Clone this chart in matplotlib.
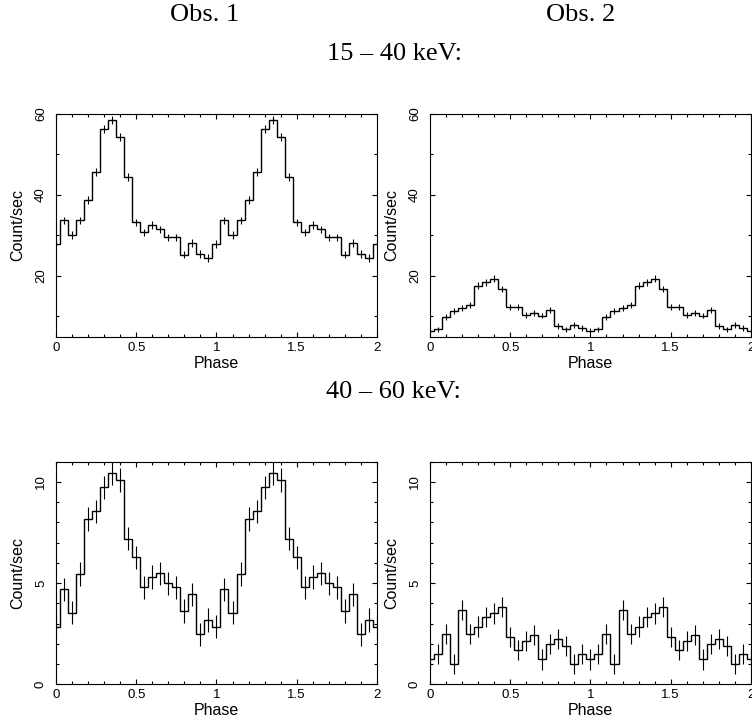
import numpy as np
import matplotlib
matplotlib.use("Agg")
import matplotlib.pyplot as plt
from matplotlib.ticker import MultipleLocator

# pulse profiles, 20 phase bins per cycle (bin centres 0.00 .. 0.95)
rate_obs1_15_40 = [27.9, 33.7, 30.1, 33.7, 38.8, 45.6, 56.3, 58.5, 54.4, 44.4,
                   33.2, 30.8, 32.6, 31.5, 29.5, 29.5, 25.2, 28.1, 25.4, 24.4]
err_obs1_15_40 = [0.9, 0.9, 0.9, 0.9, 1.0, 1.0, 1.0, 1.0, 1.0, 1.0,
                  0.9, 0.9, 0.9, 0.9, 0.9, 0.9, 0.9, 0.9, 0.9, 0.9]

rate_obs2_15_40 = [6.5, 6.8, 9.8, 11.4, 12.0, 12.8, 17.6, 18.4, 19.3, 16.8,
                   12.3, 12.3, 10.4, 10.8, 10.2, 11.6, 7.7, 6.8, 7.9, 7.1]
err_obs2_15_40 = [0.7, 0.7, 0.7, 0.7, 0.7, 0.7, 0.8, 0.8, 0.8, 0.8,
                  0.7, 0.7, 0.7, 0.7, 0.7, 0.7, 0.7, 0.7, 0.7, 0.7]

rate_obs1_40_60 = [2.85, 4.69, 3.54, 5.44, 8.17, 8.54, 9.72, 10.41, 10.08, 7.20,
                   6.27, 4.79, 5.31, 5.48, 4.98, 4.79, 3.62, 4.44, 2.47, 3.17]
err_obs1_40_60 = [0.58] * 20

rate_obs2_40_60 = [1.23, 1.48, 2.48, 1.00, 3.67, 2.48, 2.85, 3.34, 3.50, 3.83,
                   2.35, 1.69, 2.15, 2.42, 1.23, 1.99, 2.22, 1.89, 1.00, 1.48]
err_obs2_40_60 = [0.5] * 20

bin_width = 0.05

serif = ["Liberation Serif", "DejaVu Serif"]
sans = ["Liberation Sans", "DejaVu Sans"]
plt.rcParams["font.family"] = sans


def two_cycles(v):
    # profile shown over phase 0..2 (plus the wrapped bin at phase 2)
    v = np.asarray(v, dtype=float)
    return np.concatenate([v, v, v[:1]])


def profile(ax, rate, err, ylim, major, minor):
    y = two_cycles(rate)
    e = two_cycles(err)
    centres = np.arange(len(y)) * bin_width
    edges = np.arange(len(y) + 1) * bin_width - bin_width / 2
    ax.stairs(y, edges, color="black", linewidth=1.0, baseline=None)
    ax.errorbar(centres, y, yerr=e, fmt="none", ecolor="black",
                elinewidth=0.8, capsize=0)
    ax.set_xlim(0, 2)
    ax.set_ylim(*ylim)
    ax.xaxis.set_major_locator(MultipleLocator(0.5))
    ax.xaxis.set_minor_locator(MultipleLocator(0.1))
    ax.yaxis.set_major_locator(MultipleLocator(major))
    ax.yaxis.set_minor_locator(MultipleLocator(minor))
    ax.set_xticks([0, 0.5, 1, 1.5, 2], ["0", "0.5", "1", "1.5", "2"])
    ax.tick_params(which="both", direction="in", top=True, right=True,
                   width=0.8, labelsize=9.5)
    ax.tick_params(which="major", length=3.8)
    ax.tick_params(which="minor", length=1.9)
    ax.tick_params(axis="x", pad=3.5)
    ax.tick_params(axis="y", pad=6.5, labelrotation=90)
    for lab in ax.get_yticklabels():
        lab.set_verticalalignment("center")
    for s in ax.spines.values():
        s.set_linewidth(0.8)
    ax.set_xlabel("Phase", fontsize=11.5, labelpad=1.5)
    ax.set_ylabel("Count/sec", fontsize=11.5, labelpad=7)


fig = plt.figure(figsize=(7.52, 7.24), dpi=100)

w, h = 0.4267, 0.3077
ax1 = fig.add_axes([0.0745, 0.5350, w, h])
ax2 = fig.add_axes([0.5718, 0.5350, w, h])
ax3 = fig.add_axes([0.0745, 0.0548, w, h])
ax4 = fig.add_axes([0.5718, 0.0548, w, h])

profile(ax1, rate_obs1_15_40, err_obs1_15_40, (5, 60), 20, 10)
profile(ax2, rate_obs2_15_40, err_obs2_15_40, (5, 60), 20, 10)
profile(ax3, rate_obs1_40_60, err_obs1_40_60, (0, 11), 5, 1)
profile(ax4, rate_obs2_40_60, err_obs2_40_60, (0, 11), 5, 1)

fig.text(0.2726, 0.971, "Obs. 1", family=serif, fontsize=19,
         ha="center", va="baseline")
fig.text(0.7726, 0.971, "Obs. 2", family=serif, fontsize=19,
         ha="center", va="baseline")
fig.text(0.525, 0.917, "15 – 40 keV:", family=serif, fontsize=19,
         ha="center", va="baseline")
fig.text(0.5226, 0.450, "40 – 60 keV:", family=serif, fontsize=19,
         ha="center", va="baseline")

fig.savefig("out.png", dpi=100)
